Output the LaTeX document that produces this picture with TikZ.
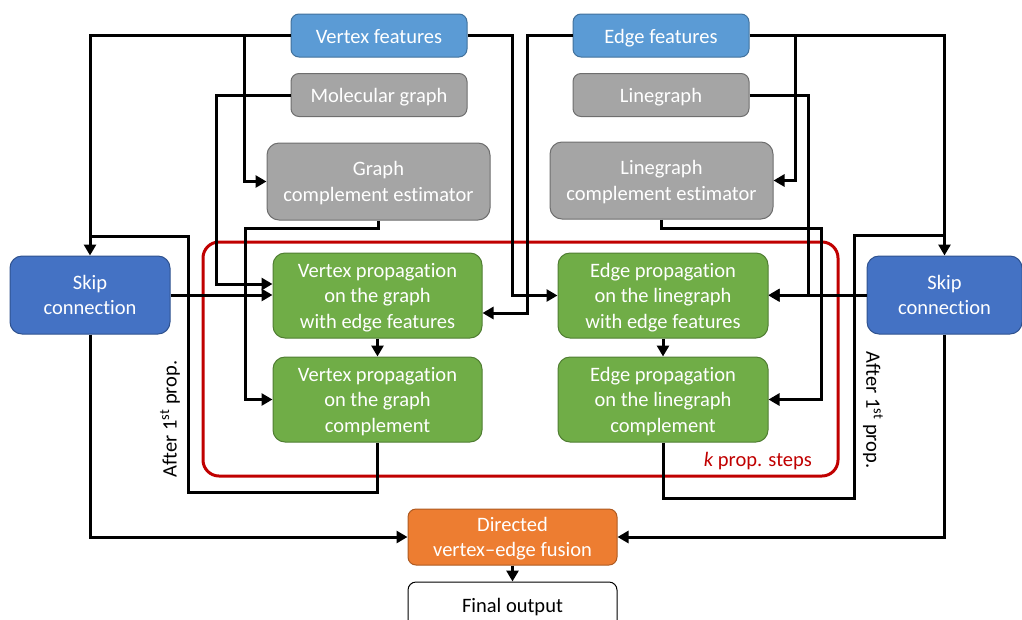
\documentclass[tikz,border=0pt]{standalone}
\usepackage{fontspec}
\setmainfont{Carlito}[Ligatures={NoCommon,TeX}]
\usetikzlibrary{arrows.meta,calc}

\definecolor{featblue}{HTML}{5B9BD5}
\definecolor{featblueb}{HTML}{41719C}
\definecolor{skipblue}{HTML}{4472C4}
\definecolor{skipblueb}{HTML}{2F528F}
\definecolor{boxgray}{HTML}{A5A5A5}
\definecolor{boxgrayb}{HTML}{6E6E6E}
\definecolor{propgreen}{HTML}{70AD47}
\definecolor{propgreenb}{HTML}{507E32}
\definecolor{fuseorange}{HTML}{ED7D31}
\definecolor{fuseorangeb}{HTML}{AE5A21}
\definecolor{loopred}{HTML}{C00000}

\tikzset{
  box/.style={draw, line width=1pt, rounded corners=8pt, align=center,
    text=white, inner sep=0pt,
    font=\fontsize{20.5}{25.5}\selectfont},
  % single lines: same vertical placement whatever the glyphs
  oneline/.style={text height=15pt, text depth=0pt},
  % stacked lines: fixed first-line height and last-line depth
  multiline/.style={text depth=0pt, execute at begin node={\rule{0pt}{22pt}}},
  featbox/.style={box, oneline, fill=featblue, draw=featblueb, minimum width=176, minimum height=43},
  graybox/.style={box, fill=boxgray, draw=boxgrayb},
  skipbox/.style={box, multiline, fill=skipblue, draw=skipblueb, rounded corners=12pt, minimum height=78},
  propbox/.style={box, multiline, fill=propgreen, draw=propgreenb, rounded corners=12pt, minimum width=209, minimum height=85},
  fusebox/.style={box, multiline, fill=fuseorange, draw=fuseorangeb, minimum width=209, minimum height=56},
  outbox/.style={box, oneline, fill=white, draw=black, text=black, minimum width=209, minimum height=46},
  conn/.style={line width=3pt, -{Triangle[length=11pt,width=12pt]}},
  wire/.style={line width=3pt},
  lbl/.style={font=\fontsize{20.5}{25}\selectfont, inner sep=0pt}
}

\begin{document}
\begin{tikzpicture}[x=1pt,y=-1pt]
\useasboundingbox (0,0) rectangle (1022,619);

% loop of k propagation steps
\draw[loopred, line width=3pt, rounded corners=16pt] (203,242) rectangle (838,476);
\node[lbl, text=loopred, anchor=east] (ksteps) at (812,461) {\textit{k} prop. steps};

% inputs
\node[featbox] (vf) at (379,35.5) {Vertex features};
\node[featbox] (ef) at (661,35.5) {Edge features};
\node[graybox, oneline, minimum width=176, minimum height=43] (mg) at (379,95) {Molecular graph};
\node[graybox, oneline, minimum width=176, minimum height=43] (lg) at (661,95) {Linegraph};
\node[graybox, multiline, rounded corners=12pt, minimum width=223, minimum height=77] (gce) at (378.5,181.5) {Graph\\complement estimator};
\node[graybox, multiline, rounded corners=12pt, minimum width=223, minimum height=77] (lce) at (661.5,180.5) {Linegraph\\complement estimator};

% skip connections
\node[skipbox, minimum width=160] (skL) at (90,295) {Skip\\connection};
\node[skipbox, minimum width=155] (skR) at (944.5,295) {Skip\\connection};

% propagation blocks
\node[propbox] (vpe) at (377.5,295.5) {Vertex propagation\\on the graph\\with edge features};
\node[propbox] (vpc) at (377.5,399.5) {Vertex propagation\\on the graph\\complement};
\node[propbox, minimum width=210] (epe) at (663,295.5) {Edge propagation\\on the linegraph\\with edge features};
\node[propbox, minimum width=210] (epc) at (663,399.5) {Edge propagation\\on the linegraph\\complement};

% output
\node[fusebox] (fus) at (512.5,537) {Directed\\vertex--edge fusion};
\node[outbox] (fin) at (512.5,605) {Final output};

% side labels
\node[lbl, rotate=90] (afterL) at (170,419) {After 1\textsuperscript{st} prop.};
\node[lbl, rotate=-90] (afterR) at (873,410) {After 1\textsuperscript{st} prop.};

% vertex side wiring
\draw[conn] (vf.west) -| (skL.north);
\draw[conn] ($(vf.west)+(-46,0)$) |- (gce.west);
\draw[conn] (vf.east) -- ++(45,0) |- (epe.west);
\draw[conn] (mg.west) -- ++(-74,0) |- ($(vpe.west)+(0,-11.5)$);
\draw[conn] (skL.east) -- (skL.east -| vpe.west);
\draw[conn] (gce.south) -- ++(0,8) -- ++(-133.5,0) |- (vpc.west);
\draw[conn] (vpe.south) -- (vpc.north);
\draw[wire] (vpc.south) -- ++(0,50) -- ++(-189.5,0) -- ++(0,-256) -- ++(-98,0);
\draw[conn] (skL.south) |- (fus.west);

% edge side wiring
\draw[conn] (ef.west) -- ++(-45,0) |- ($(vpe.east)+(0,17.5)$);
\draw[conn] (ef.east) -| (skR.north);
\draw[conn] ($(ef.east)+(46,0)$) |- (lce.east);
\draw[conn] (lg.east) -- ++(59,0) |- (epe.east);
\draw[conn] (skR.west) -- (skR.west -| epe.east);
\draw[conn] (lce.south) -- ++(0,8.5) -- ++(159.5,0) |- (epc.east);
\draw[conn] (epe.south) -- (epc.north);
\draw[wire] (epc.south) -- ++(0,56) -- ++(191,0) -- ++(0,-263) -- ++(90.5,0);
\draw[conn] (skR.south) |- (fus.east);

% fusion to output
\draw[conn] (fus.south) -- (fin.north);
\end{tikzpicture}
\end{document}
